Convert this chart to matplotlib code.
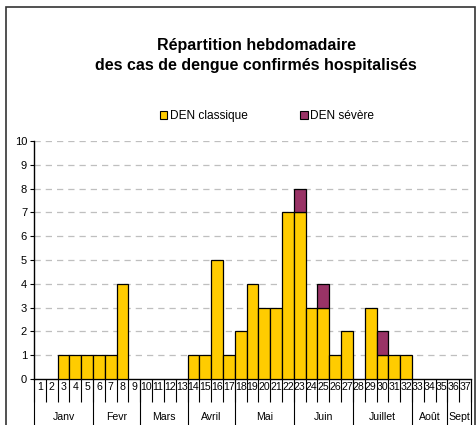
import numpy as np
import matplotlib
matplotlib.use("Agg")
import matplotlib.pyplot as plt
import matplotlib.patches as mpatches
import matplotlib.transforms as mtransforms

plt.rcParams['font.family'] = ['Liberation Sans', 'DejaVu Sans']

# semaines 1 a 37
weeks = np.arange(1, 38)
den_classique = [0, 0, 1, 1, 1, 1, 1, 4, 0, 0, 0, 0, 0, 1, 1, 5, 1, 2, 4, 3,
                 3, 7, 7, 3, 3, 1, 2, 0, 3, 1, 1, 1, 0, 0, 0, 0, 0]
den_severe = [0, 0, 0, 0, 0, 0, 0, 0, 0, 0, 0, 0, 0, 0, 0, 0, 0, 0, 0, 0,
              0, 0, 1, 0, 1, 0, 0, 0, 0, 1, 0, 0, 0, 0, 0, 0, 0]

months = ['Janv', 'Fevr', 'Mars', 'Avril', 'Mai', 'Juin', 'Juillet', 'Août', 'Sept']
month_first_week = [1, 6, 10, 14, 18, 23, 28, 33, 36]
month_last_week = [5, 9, 13, 17, 22, 27, 32, 35, 37]

yellow = '#FFCC00'
purple = '#993366'

fig = plt.figure(figsize=(4.77, 4.25), dpi=100)
ax = fig.add_axes([34/477, 1 - 379/425, (471 - 34)/477, (379 - 141)/425])

ax.bar(weeks, den_classique, width=1.0, color=yellow, edgecolor='black', linewidth=0.9,
       label='DEN classique', zorder=3)
ax.bar(weeks, den_severe, width=1.0, bottom=den_classique, color=purple, edgecolor='black',
       linewidth=0.9, label='DEN sévère', zorder=3)
# masquer les barres de hauteur nulle
for p in ax.patches:
    if p.get_height() == 0:
        p.set_visible(False)

ax.set_xlim(0.5, 37.5)
ax.set_ylim(0, 10)
ax.set_yticks(range(0, 11))
ax.tick_params(axis='y', length=3, width=0.8, labelsize=8, pad=2)
for y in range(1, 11):
    ax.axhline(y, color='#BFBFBF', linewidth=0.9, dashes=(5, 4), zorder=1)

for s in ['top', 'right']:
    ax.spines[s].set_visible(False)
ax.spines['bottom'].set_linewidth(1.0)
ax.spines['left'].set_linewidth(1.0)

# semaines : separateurs et numeros
ax.set_xticks(np.arange(0.5, 38.5, 1.0))
ax.set_xticklabels([])
ax.tick_params(axis='x', which='major', length=16.5, width=0.8, direction='out')
ax.set_xticks(weeks, minor=True)
ax.set_xticklabels([str(w) for w in weeks], minor=True, fontsize=7.6)
ax.tick_params(axis='x', which='minor', length=0, pad=2.5)

# mois
trans = mtransforms.blended_transform_factory(ax.transData, ax.transAxes)
bounds = [month_first_week[0] - 0.5] + [w + 0.5 for w in month_last_week]
ax.vlines(bounds, 0, -0.25, transform=trans, colors='black', linewidth=0.8, clip_on=False)
for name, a, b in zip(months, month_first_week, month_last_week):
    ax.text((a + b) / 2, -0.158, name, transform=trans, ha='center', va='center', fontsize=7.6)

fig.text(0.537, 0.870, 'Répartition hebdomadaire\ndes cas de dengue confirmés hospitalisés',
         ha='center', va='center', fontsize=11.5, fontweight='bold', linespacing=1.45)

handles = [mpatches.Patch(facecolor=yellow, edgecolor='black', linewidth=0.8),
           mpatches.Patch(facecolor=purple, edgecolor='black', linewidth=0.8)]
fig.legend(handles, ['DEN classique', 'DEN sévère'], loc='center', bbox_to_anchor=(0.56, 0.727),
           ncol=2, frameon=False, fontsize=8.6, handlelength=0.6, handleheight=0.6,
           handletextpad=0.25, columnspacing=4.4)

# cadre du graphique
fig.patches.append(mpatches.Rectangle((6/477, -0.05), (475 - 6)/477, 1.05 - 7/425,
                                      transform=fig.transFigure, fill=False,
                                      edgecolor='#333333', linewidth=1.2))

fig.savefig('out.png', dpi=100)
